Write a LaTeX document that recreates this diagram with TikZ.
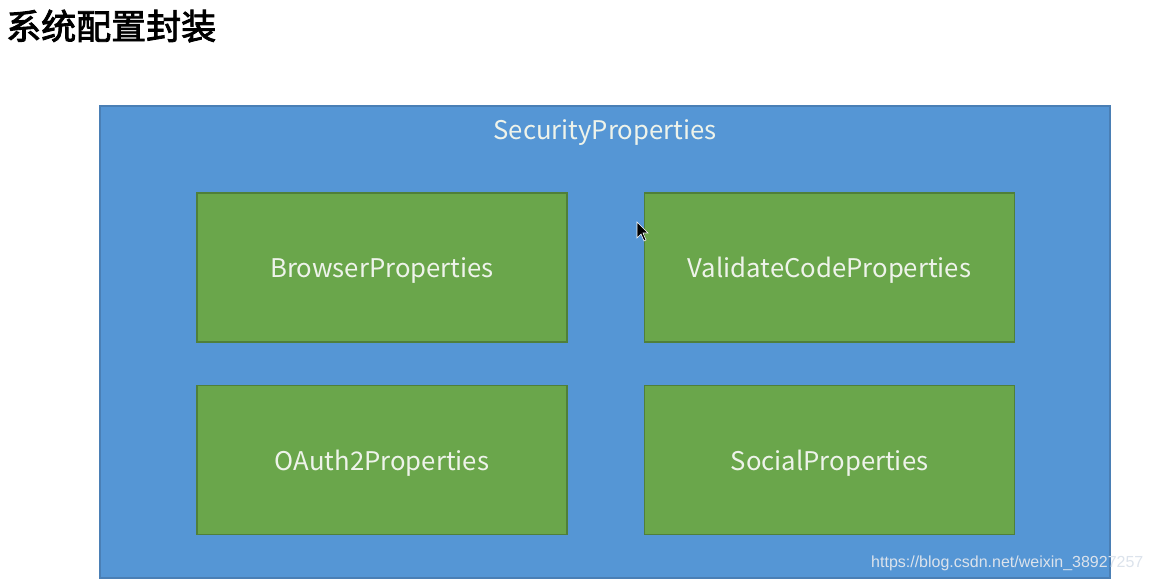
\documentclass[tikz,border=0pt]{standalone}
\usepackage{fontspec}
\newfontfamily\cjkb{Noto Sans CJK SC}[FakeBold=2.5]
\newfontfamily\lbl{Noto Sans CJK SC}
\newfontfamily\wm{Liberation Sans}
\definecolor{bluebg}{HTML}{5596D5}
\definecolor{blueedge}{HTML}{4A7FB5}
\definecolor{greenbg}{HTML}{6AA64B}
\definecolor{greenedge}{HTML}{4F7F3A}
\definecolor{txt}{HTML}{EEF3EA}
\definecolor{wmcol}{HTML}{DCE3EC}
\tikzset{
  outerbox/.style={draw=blueedge,line width=1.2pt,fill=bluebg},
  innerbox/.style={draw=greenedge,line width=1.5pt,fill=greenbg,minimum width=370pt,minimum height=149pt,inner sep=0pt},
  lbltext/.style={font={\lbl\fontsize{25.7}{30}\selectfont},text=txt,inner sep=0pt},
}
\begin{document}
\begin{tikzpicture}[x=1pt,y=-1pt]
\useasboundingbox[fill=white] (0,0) rectangle (1153,582);
\node[anchor=west,inner sep=0pt,font={\cjkb\fontsize{35}{38}\selectfont}] (title) at (6,26) {系统配置封装};
\draw[outerbox] (100,106) rectangle (1110,578);
\node[lbltext] (sec) at (605,133) {SecurityProperties};
\node[innerbox] (browser) at (382,267.5) {};
\node[innerbox] (validate) at (829.5,267.5) {};
\node[innerbox] (oauth) at (382,460) {};
\node[innerbox] (social) at (829.5,460) {};
\node[lbltext] (browsert) at ([yshift=-3pt]browser.center) {BrowserProperties};
\node[lbltext] (validatet) at ([yshift=-3pt]validate.center) {ValidateCodeProperties};
\node[lbltext] (oautht) at ([yshift=-3pt]oauth.center) {OAuth2Properties};
\node[lbltext] (socialt) at ([yshift=-3pt]social.center) {SocialProperties};
\node[anchor=west,inner sep=0pt,font={\wm\fontsize{16}{18}\selectfont},text=wmcol] (wm) at (871,563) {https://blog.csdn.net/weixin\_38927257};
\fill[black,draw=white,line width=0.6pt] (637,222) -- (637,238) -- (641,234) -- (644,241) -- (646,240) -- (643,233) -- (648,233) -- cycle;
\end{tikzpicture}
\end{document}
